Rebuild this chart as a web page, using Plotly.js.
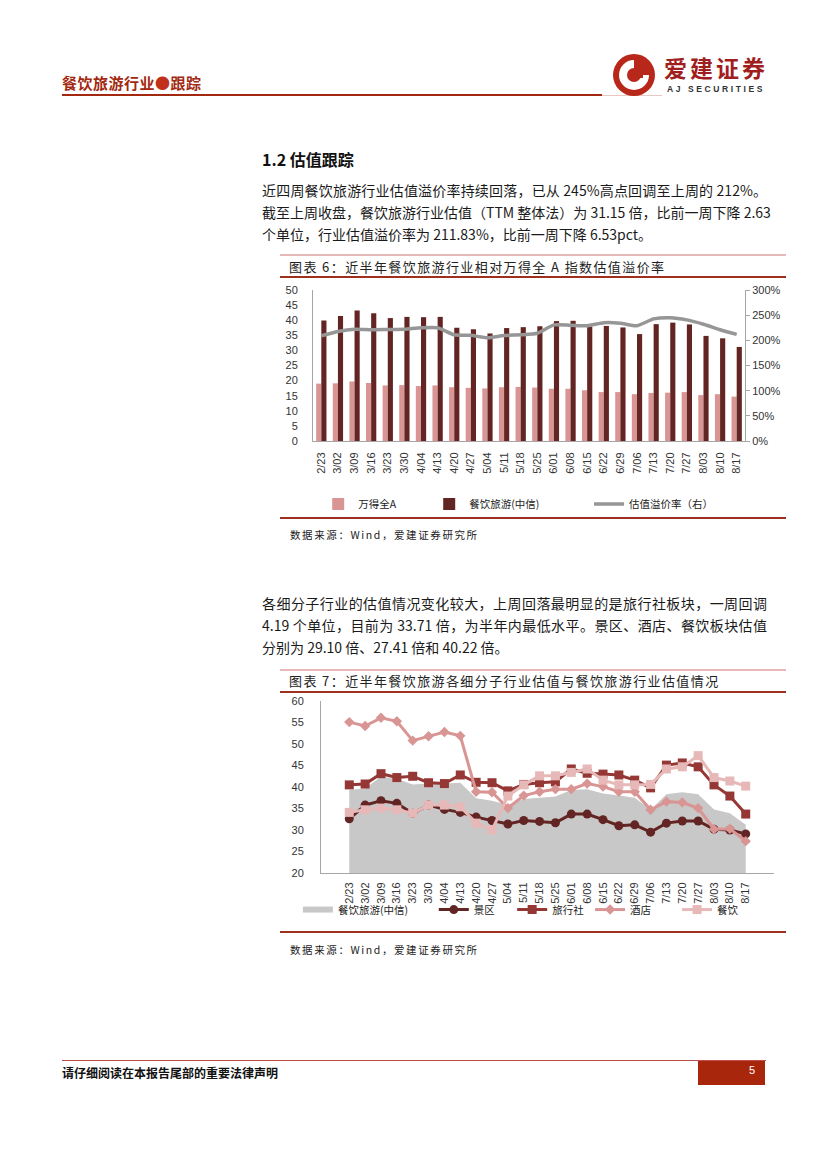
<!DOCTYPE html>
<html>
<head>
<meta charset="utf-8">
<script src="https://cdn.plot.ly/plotly-3.0.1.min.js"></script>
<style>
  html, body { margin:0; padding:0; background:#fff; }
  body { width:827px; height:1169px; position:relative; overflow:hidden;
         font-family:"Noto Sans CJK SC","Noto Sans",sans-serif; color:#1a1a1a; }
  .abs { position:absolute; }
  .para { position:absolute; left:262px; width:505px; font-size:14px; line-height:22px; white-space:nowrap; }
  .just { text-align:justify; text-align-last:justify; }
  .cap { position:absolute; left:289px; font-size:13px; letter-spacing:1.4px; color:#222; white-space:nowrap; }
  .src { position:absolute; left:290px; font-size:10.5px; letter-spacing:1.6px; color:#222; white-space:nowrap; }
  .hl { position:absolute; left:280px; width:506px; }
</style>
</head>
<body>
<!-- header -->
<div class="abs" style="left:62px;top:72px;font-size:15px;font-weight:bold;color:#A2280F;letter-spacing:0.5px;">餐饮旅游行业<span style="color:#C0301A;">●</span>跟踪</div>
<div class="abs" style="left:62px;top:94px;width:540px;height:2px;background:#A2280F;"></div>
<div class="abs" style="left:602px;top:95px;width:60px;height:1px;background:#E8C8C0;"></div>
<svg class="abs" style="left:610px;top:52px;" width="48" height="46" viewBox="0 0 48 46">
  <circle cx="24" cy="23" r="21" fill="#B8281A"/>
  <path d="M24 8 A15 15 0 1 0 39 23 L31 23 A7 7 0 1 1 24 16 Z" fill="#fff"/>
  <rect x="22" y="20" width="11" height="6" fill="#B8281A"/>
</svg>
<div class="abs" style="left:664px;top:55px;font-size:23px;line-height:24px;font-weight:bold;color:#A01E1E;letter-spacing:3px;">爱建证券</div>
<div class="abs" style="left:667px;top:85px;font-size:8.5px;line-height:9px;font-weight:bold;color:#333;letter-spacing:2.6px;font-family:'Liberation Sans',Arial,sans-serif;">AJ SECURITIES</div>

<!-- section -->
<div class="abs" style="left:262px;top:147px;font-size:16px;font-weight:bold;color:#111;">1.2 估值跟踪</div>
<div class="para just" style="top:179px;">近四周餐饮旅游行业估值溢价率持续回落，已从 245%高点回调至上周的 212%。</div>
<div class="para just" style="top:201px;">截至上周收盘，餐饮旅游行业估值（TTM 整体法）为 31.15 倍，比前一周下降 2.63</div>
<div class="para" style="top:223px;">个单位，行业估值溢价率为 211.83%，比前一周下降 6.53pct。</div>

<!-- figure 6 -->
<div class="hl" style="top:254px;height:2px;background:#E6B9B8;"></div>
<div class="cap" style="top:257px;">图表 6：近半年餐饮旅游行业相对万得全 A 指数估值溢价率</div>
<div class="hl" style="top:276px;height:2px;background:#A0301E;"></div>
<div class="hl" style="top:517px;height:2px;background:#A0301E;"></div>
<div id="chart1" class="abs" style="left:255px;top:280px;width:540px;height:256px;"></div>
<div class="src" style="top:527px;">数据来源：Wind，爱建证券研究所</div>

<div class="para just" style="top:592px;">各细分子行业的估值情况变化较大，上周回落最明显的是旅行社板块，一周回调</div>
<div class="para just" style="top:614px;">4.19 个单位，目前为 33.71 倍，为半年内最低水平。景区、酒店、餐饮板块估值</div>
<div class="para" style="top:636px;">分别为 29.10 倍、27.41 倍和 40.22 倍。</div>

<!-- figure 7 -->
<div class="hl" style="top:669px;height:2px;background:#E6B9B8;"></div>
<div class="cap" style="top:671px;">图表 7：近半年餐饮旅游各细分子行业估值与餐饮旅游行业估值情况</div>
<div class="hl" style="top:691px;height:2px;background:#A0301E;"></div>
<div class="hl" style="top:931px;height:2px;background:#A0301E;"></div>
<div id="chart2" class="abs" style="left:255px;top:690px;width:540px;height:262px;"></div>
<div class="src" style="top:942px;">数据来源：Wind，爱建证券研究所</div>

<!-- footer -->
<div class="abs" style="left:62px;top:1060px;width:704px;height:1px;background:#C0504D;"></div>
<div class="abs" style="left:62px;top:1064px;font-size:12px;font-weight:bold;color:#111;">请仔细阅读在本报告尾部的重要法律声明</div>
<div class="abs" style="left:698px;top:1061px;width:67px;height:24px;background:#A8260C;"></div>
<div class="abs" style="left:749px;top:1064px;font-size:11px;color:#fff;font-family:'Liberation Sans',Arial,sans-serif;">5</div>

<script>
// ---------- data ----------
const dates = ["2/23","3/02","3/09","3/16","3/23","3/30","4/04","4/13","4/20","4/27","5/04","5/11","5/18","5/25","6/01","6/08","6/15","6/22","6/29","7/06","7/13","7/20","7/27","8/03","8/10","8/17"];
const wind_A = [19.0,19.1,19.7,19.2,18.4,18.5,18.2,18.4,17.8,17.6,17.4,17.8,17.9,17.7,17.3,17.3,16.8,16.2,16.2,15.5,15.9,16.0,16.2,15.2,15.5,14.7];
const catering_tourism = [39.9,41.4,43.2,42.3,40.7,41.1,41.0,41.1,37.5,37.0,35.6,37.4,37.7,38.0,39.7,39.8,37.9,38.1,37.6,35.4,38.7,39.2,38.6,34.8,34.0,31.15];
const premium = [209,217.5,222,221,221.5,222,225,225,211,210,205,209.6,211,214,230.7,230,229,235,234,229,242.6,245,240.6,232,221,211.83];
const scenic = [32.6,35.8,36.8,36.2,33.9,35.8,34.8,34.1,33.0,32.2,31.4,32.2,32.0,31.7,33.7,33.7,32.4,31.0,31.2,29.5,31.6,32.1,32.1,30.2,30.0,29.10];
const travel = [40.5,40.7,43.1,42.2,42.5,41.0,40.8,42.8,41.1,41.0,39.1,40.6,41.0,41.2,44.2,43.2,43.0,42.8,41.6,39.8,45.1,45.6,44.7,40.5,37.9,33.71];
const hotel = [55.1,54.2,56.1,55.3,50.8,51.8,52.8,51.9,38.9,38.8,35.1,38.0,38.9,39.5,39.5,40.8,40.1,38.9,38.9,34.7,36.6,36.4,35.1,30.2,30.3,27.41];
const restaurant = [34.1,34.7,35.1,34.7,33.9,35.8,35.8,35.4,31.6,30.0,37.9,40.5,42.6,42.6,43.4,44.2,41.6,40.5,40.5,40.6,44.2,44.7,47.3,42.2,41.4,40.22];
const area_ct = [39.3,39.7,42.4,41.9,40.6,40.8,40.8,41.0,37.4,36.8,35.8,37.2,37.5,37.8,39.3,39.5,38.5,38.0,37.5,34.7,38.3,38.8,38.3,34.8,33.9,31.2];

const tickFont = {family:"Liberation Sans, Arial, sans-serif", size:11, color:"#333"};
const legFont = {family:"Noto Sans CJK SC, sans-serif", size:10.5, color:"#222"};
function leg(x, y){ return {orientation:"h", x:x, xanchor:"left", y:y, yanchor:"middle", font:legFont, itemwidth:30, bgcolor:"rgba(0,0,0,0)"}; }

// ---------- chart 1 ----------
// plot area: x 313..745, y 289.5..441.5 (page px); div top 280, height 256
const c1PlotH = 152;
const c1LegY = -(505 - 441.5) / c1PlotH;
Plotly.newPlot("chart1", [
  {type:"bar", x:dates, y:wind_A, name:"万得全A", marker:{color:"#D99594"}, legend:"legend"},
  {type:"bar", x:dates, y:catering_tourism, name:"餐饮旅游(中信)", marker:{color:"#632523"}, legend:"legend2"},
  {type:"scatter", mode:"lines", x:dates, y:premium, name:"估值溢价率（右）", yaxis:"y2", legend:"legend3",
   line:{color:"#969696", width:3.5, shape:"spline", smoothing:0.6}}
], {
  width:540, height:256,
  margin:{l:58, r:50, t:9.5, b:94.5},
  paper_bgcolor:"rgba(0,0,0,0)", plot_bgcolor:"rgba(0,0,0,0)",
  barmode:"group", bargap:0.38, bargroupgap:0,
  showlegend:true,
  legend: leg(0.012, c1LegY),
  legend2: leg(0.269, c1LegY),
  legend3: leg(0.639, c1LegY),
  xaxis:{type:"category", tickangle:-90, tickfont:tickFont, showline:true, linecolor:"#A6A6A6", linewidth:1, automargin:false,
         ticks:"outside", ticklen:6, tickcolor:"rgba(0,0,0,0)", showgrid:false, zeroline:false},
  yaxis:{range:[0,50], dtick:5, tickfont:tickFont, showline:true, linecolor:"#A6A6A6", linewidth:1, automargin:false,
         ticks:"outside", ticklen:12, tickcolor:"rgba(0,0,0,0)", showgrid:false, zeroline:false},
  yaxis2:{range:[0,300], dtick:50, ticksuffix:"%", overlaying:"y", side:"right", tickfont:tickFont, automargin:false,
          showline:true, linecolor:"#A6A6A6", linewidth:1, ticks:"outside", ticklen:4, tickcolor:"#A6A6A6",
          showgrid:false, zeroline:false}
}, {staticPlot:true});

// ---------- chart 2 ----------
// plot area: x 321..774, y 700.7..873.3 (page px); div top 690, height 262
const c2PlotH = 172.6;
const c2LegY = -(910 - 873.3) / c2PlotH;
Plotly.newPlot("chart2", [
  {type:"scatter", mode:"none", x:dates, y:area_ct, name:"餐饮旅游(中信)", fill:"tozeroy", fillcolor:"#C8C8C8", legend:"legend"},
  {type:"scatter", mode:"lines+markers", x:dates, y:scenic, name:"景区", legend:"legend2",
   line:{color:"#632523", width:3}, marker:{symbol:"circle", size:9, color:"#632523"}},
  {type:"scatter", mode:"lines+markers", x:dates, y:travel, name:"旅行社", legend:"legend3",
   line:{color:"#953735", width:3}, marker:{symbol:"square", size:9, color:"#953735"}},
  {type:"scatter", mode:"lines+markers", x:dates, y:hotel, name:"酒店", legend:"legend4",
   line:{color:"#D99594", width:3}, marker:{symbol:"diamond", size:8, color:"#D99594"}},
  {type:"scatter", mode:"lines+markers", x:dates, y:restaurant, name:"餐饮", legend:"legend5",
   line:{color:"#E6B9B8", width:3}, marker:{symbol:"square", size:9, color:"#E6B9B8"}}
], {
  width:540, height:262,
  margin:{l:66, r:21, t:10.7, b:78.7},
  paper_bgcolor:"rgba(0,0,0,0)", plot_bgcolor:"rgba(0,0,0,0)",
  showlegend:true,
  legend: leg(-0.051, c2LegY),
  legend2: leg(0.249, c2LegY),
  legend3: leg(0.422, c2LegY),
  legend4: leg(0.594, c2LegY),
  legend5: leg(0.786, c2LegY),
  xaxis:{type:"category", tickangle:-90, tickfont:tickFont, showline:true, linecolor:"#A6A6A6", linewidth:1, automargin:false,
         ticks:"outside", ticklen:4, tickcolor:"rgba(0,0,0,0)", showgrid:false, zeroline:false},
  yaxis:{range:[20,60.01], tickvals:[20,25,30,35,40,45,50,55,60], tickfont:tickFont, showline:true, linecolor:"#A6A6A6", linewidth:1, automargin:false,
         ticks:"outside", ticklen:14, tickcolor:"rgba(0,0,0,0)", showgrid:false, zeroline:false}
}, {staticPlot:true});
</script>
</body>
</html>
